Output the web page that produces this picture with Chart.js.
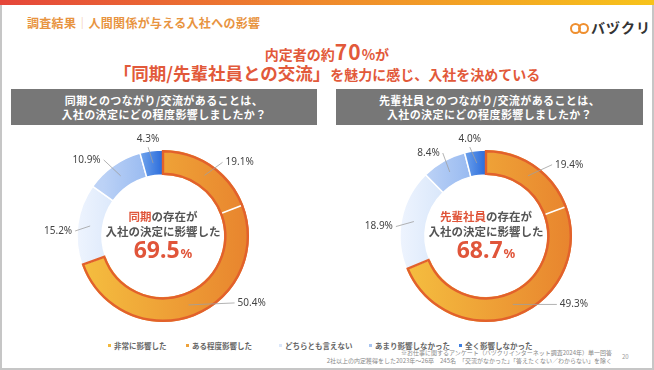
<!DOCTYPE html>
<html lang="ja">
<head>
<meta charset="utf-8">
<script src="https://cdn.jsdelivr.net/npm/chart.js@4.4.1/dist/chart.umd.min.js"></script>
<style>
    body { margin: 0; background: #fff; font-family: 'Noto Sans CJK JP', 'Noto Sans', sans-serif; }
    #slide { position: relative; width: 654px; height: 370px; background: #fff; overflow: hidden; }
    .topbar { position: absolute; left: 0; top: 0; width: 654px; height: 5px; background: linear-gradient(90deg, #e5463a, #ef8a2c 50%, #f7c31b); }
    .frame { position: absolute; left: 0; top: 5px; width: 654px; height: 365px; box-sizing: border-box; border: 2px solid #c6c6c6; border-top: none; pointer-events: none; }
    .title { position: absolute; left: 27px; top: 14px; font-size: 12px; font-weight: bold; color: #e8943f; letter-spacing: 0.3px; white-space: nowrap; }
    .title .bar { color: #f1c39a; font-weight: normal; }
    .logo { position: absolute; left: 570px; top: 19px; height: 18px; white-space: nowrap; }
    .logo .loop { position: absolute; top: 4px; width: 7px; height: 7px; border: 2px solid #ef8f2f; border-radius: 50%; }
    .logo .txt { position: absolute; left: 21px; top: -2px; font-size: 14px; font-weight: bold; color: #333; letter-spacing: 1px; }
    .head1, .head2 { position: absolute; left: 0; width: 654px; text-align: center; color: #e2593a; font-weight: bold; white-space: nowrap; }
    .head1 { top: 36px; font-size: 14px; }
    .head1 .big { font-size: 21px; letter-spacing: 1px; }
    .head2 { top: 60px; font-size: 14px; }
    .head2 .big { font-size: 17.5px; }
    .qbox { position: absolute; top: 89px; height: 36px; background: #777777; color: #fff; font-size: 11px; font-weight: bold; text-align: center; line-height: 14px; padding-top: 4px; box-sizing: border-box; letter-spacing: 0.4px; }
    .chartbox { position: absolute; top: 132px; width: 320px; height: 208px; }
    .legend { position: absolute; top: 341px; left: 0; width: 654px; height: 9px; }
    .legend .item { position: absolute; top: 0; font-size: 7.5px; line-height: 9px; font-weight: bold; color: #666; white-space: nowrap; }
    .legend .dot { display: inline-block; width: 3px; height: 3px; margin-right: 3px; vertical-align: middle; position: relative; top: -1px; }
    .note { position: absolute; right: 42px; top: 349px; font-size: 6px; color: #888; text-align: right; line-height: 8px; white-space: nowrap; }
    .page { position: absolute; left: 622px; top: 352px; font-size: 6px; color: #999; }
</style>
</head>
<body>
<div id="slide">
    <div class="topbar"></div>
    <div class="title">調査結果<span class="bar">｜</span>人間関係が与える入社への影響</div>
    <div class="logo">
        <span class="loop" style="left:0px"></span><span class="loop" style="left:8px"></span>
        <span class="txt">バヅクリ</span>
    </div>
    <div class="head1">内定者の約<span class="big">70</span>%が</div>
    <div class="head2"><span class="big">「同期/先輩社員との交流」</span>を魅力に感じ、入社を決めている</div>

    <div class="qbox" style="left:11px; width:306px;">同期とのつながり/交流があることは、<br>入社の決定にどの程度影響しましたか？</div>
    <div class="qbox" style="left:336px; width:307px;">先輩社員とのつながり/交流があることは、<br>入社の決定にどの程度影響しましたか？</div>

    <div class="chartbox" style="left:3px;"><canvas id="doukiChart" width="320" height="208"></canvas></div>
    <div class="chartbox" style="left:326px;"><canvas id="senpaiChart" width="320" height="208"></canvas></div>

    <div class="legend" id="legend"></div>
    <div class="note">※お仕事に関するアンケート（バヅクリインターネット調査2024年）単一回答<br>2社以上の内定獲得をした2023年〜26卒　245名　「交流がなかった」「答えたくない／わからない」を除く</div>
    <div class="page">20</div>
    <div class="frame"></div>
</div>

<script>
// Answer categories (same order for both questions)
const categories = ['非常に影響した', 'ある程度影響した', 'どちらとも言えない', 'あまり影響しなかった', '全く影響しなかった'];

// Share of answers (%) - 同期 question
const doukiValues = [19.1, 50.4, 15.2, 10.9, 4.3];

// Share of answers (%) - 先輩社員 question
const senpaiValues = [19.4, 49.3, 18.9, 8.4, 4.0];

// Legend marker colours
const legendColors = ['#f2b83c', '#eea23a', '#dbe7fa', '#a9c5f1', '#3f7fe0'];
const legendLefts = [108, 186, 279, 369, 459];

const RING_RADIUS = 86;

// Gradient stops for each segment, running left -> right across the ring
const segmentStops = [
    [[0, '#f5c040'], [1, '#e8842e']],
    [[0, '#f5c040'], [1, '#e8842e']],
    [[0, '#eef4fe'], [0.42, '#cbdef8']],
    [[0.15, '#bcd2f6'], [0.5, '#8cb2ef']],
    [[0.38, '#6a9feb'], [0.5, '#2a6bdb']]
];

function segmentFill(context) {
    const chart = context.chart;
    const area = chart.chartArea;
    if (!area) return legendColors[context.dataIndex];
    const cx = (area.left + area.right) / 2;
    const g = chart.ctx.createLinearGradient(cx - RING_RADIUS, 0, cx + RING_RADIUS, 0);
    segmentStops[context.dataIndex].forEach(s => g.addColorStop(s[0], s[1]));
    return g;
}

/**
 * Plugin: orange outline round the "影響した" part, leader lines, labels, centre text
 */
const ringDecor = {
    id: 'ringDecor',
    afterDatasetsDraw(chart, args, opts) {
        const ctx = chart.ctx;
        const arcs = chart.getDatasetMeta(0).data;
        const values = chart.data.datasets[0].data;
        const a0 = arcs[0], a1 = arcs[1];
        const cx = a0.x, cy = a0.y;
        const outer = a0.outerRadius, inner = a0.innerRadius;

        ctx.save();
        // outline round the two orange segments
        ctx.beginPath();
        ctx.arc(cx, cy, outer - 1.2, a0.startAngle, a1.endAngle);
        ctx.arc(cx, cy, inner + 1.2, a1.endAngle, a0.startAngle, true);
        ctx.closePath();
        ctx.lineWidth = 2.4;
        ctx.strokeStyle = '#e2612c';
        ctx.stroke();

        // white separator between the two orange segments
        const s = a1.startAngle;
        ctx.beginPath();
        ctx.moveTo(cx + Math.cos(s) * (inner + 2.4), cy + Math.sin(s) * (inner + 2.4));
        ctx.lineTo(cx + Math.cos(s) * (outer - 2.4), cy + Math.sin(s) * (outer - 2.4));
        ctx.strokeStyle = '#ffffff';
        ctx.lineWidth = 1.6;
        ctx.stroke();

        // leader lines and value labels
        ctx.font = '10px "Noto Sans", sans-serif';
        ctx.textBaseline = 'middle';
        arcs.forEach((arc, i) => {
            const mid = (arc.startAngle + arc.endAngle) / 2;
            const r = (arc.innerRadius + arc.outerRadius) / 2;
            const ax = cx + Math.cos(mid) * r;
            const ay = cy + Math.sin(mid) * r;
            const [dx, dy, align] = opts.leaders[i];
            const ex = ax + dx, ey = ay + dy;
            ctx.beginPath();
            ctx.moveTo(ax, ay);
            ctx.lineTo(ex, ey);
            ctx.strokeStyle = '#a0a0a0';
            ctx.lineWidth = 0.8;
            ctx.stroke();
            ctx.fillStyle = '#444';
            const label = values[i].toFixed(1) + '%';
            if (align === 'left') {
                ctx.textAlign = 'left';
                ctx.fillText(label, ex + 3, ey);
            } else if (align === 'right') {
                ctx.textAlign = 'right';
                ctx.fillText(label, ex - 3, ey);
            } else {
                ctx.textAlign = 'center';
                ctx.fillText(label, ex, ey - 8);
            }
        });

        // centre text
        const red = '#e0553a', gray = '#555';
        ctx.textBaseline = 'middle';
        ctx.textAlign = 'left';
        ctx.font = 'bold 11.5px "Noto Sans CJK JP", sans-serif';
        const w1 = ctx.measureText(opts.subject).width;
        const w2 = ctx.measureText('の存在が').width;
        let x = cx - (w1 + w2) / 2;
        ctx.fillStyle = red;
        ctx.fillText(opts.subject, x, cy - 19);
        ctx.fillStyle = gray;
        ctx.fillText('の存在が', x + w1, cy - 19);
        ctx.textAlign = 'center';
        ctx.fillText('入社の決定に影響した', cx, cy - 4);

        const total = (values[0] + values[1]).toFixed(1);
        ctx.textAlign = 'left';
        ctx.textBaseline = 'alphabetic';
        ctx.font = 'bold 23px "Noto Sans", sans-serif';
        const wn = ctx.measureText(total).width;
        ctx.font = 'bold 13px "Noto Sans", sans-serif';
        const wp = ctx.measureText('%').width;
        x = cx - (wn + wp + 1) / 2;
        ctx.fillStyle = red;
        ctx.font = 'bold 23px "Noto Sans", sans-serif';
        ctx.fillText(total, x, cy + 22);
        ctx.font = 'bold 13px "Noto Sans", sans-serif';
        ctx.fillText('%', x + wn + 1, cy + 22);
        ctx.restore();
    }
};

function createRingChart(canvasId, values, subject, leaders) {
    const ctx = document.getElementById(canvasId);
    if (!ctx) return null;
    return new Chart(ctx, {
        type: 'doughnut',
        data: {
            labels: categories,
            datasets: [{
                data: values,
                backgroundColor: segmentFill,
                borderColor: '#ffffff',
                borderWidth: [0, 0, 1.5, 1.5, 1.5]
            }]
        },
        options: {
            responsive: false,
            animation: false,
            radius: RING_RADIUS,
            cutout: '71%',
            layout: { padding: 0 },
            plugins: {
                legend: { display: false },
                tooltip: { enabled: false },
                ringDecor: { subject: subject, leaders: leaders }
            }
        },
        plugins: [ringDecor]
    });
}

createRingChart('doukiChart', doukiValues, '同期', [
    [18, -13, 'left'],
    [46, -2, 'left'],
    [-15, 5, 'right'],
    [-17, -16, 'right'],
    [-5, -16, 'top']
]);

createRingChart('senpaiChart', senpaiValues, '先輩社員', [
    [24, -11, 'left'],
    [44, 0, 'left'],
    [-18, 5, 'right'],
    [-7, -19, 'right'],
    [-7, -16, 'top']
]);

// HTML legend shared by both charts
const legendEl = document.getElementById('legend');
categories.forEach((name, i) => {
    const item = document.createElement('div');
    item.className = 'item';
    item.style.left = legendLefts[i] + 'px';
    item.innerHTML = '<span class="dot" style="background:' + legendColors[i] + '"></span>' + name;
    legendEl.appendChild(item);
});
</script>
</body>
</html>
